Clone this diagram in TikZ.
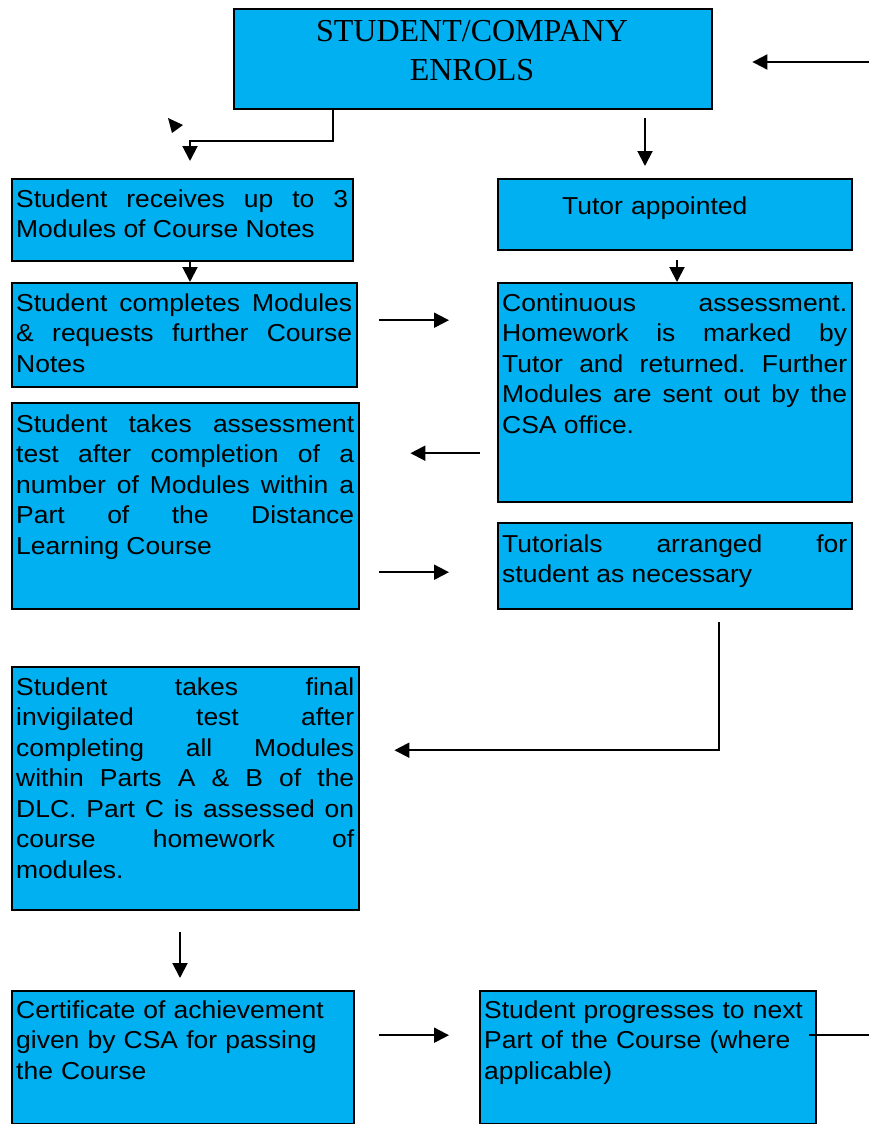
\documentclass[tikz,border=0pt]{standalone}
\usepackage{fontspec}
\usetikzlibrary{arrows.meta}
\newfontfamily\bodyfont{Liberation Sans}[FakeStretch=1.08]
\newfontfamily\headfont{Liberation Serif}
\definecolor{boxblue}{RGB}{0,176,240}
\tolerance=10000
\hyphenpenalty=10000
\exhyphenpenalty=10000
\hbadness=10000
\frenchspacing
\begin{document}
\begin{tikzpicture}[x=1pt,y=-1pt,
  box/.style={draw=black, line width=2.4pt, fill=boxblue, inner sep=0pt, anchor=north west},
  txt/.style={inner sep=0pt, anchor=base west, align=justify,
    font=\bodyfont\fontsize{24.5}{30.5}\selectfont},
  ltxt/.style={txt, align=left},
  arr/.style={-{Triangle[length=15pt,width=15pt]}, line width=2pt},
  plain/.style={line width=2pt}]
\useasboundingbox (0,0) rectangle (869,1124);
% boxes
\node[box, minimum width=478pt, minimum height=100pt] (title) at (233,8) {};
\node[box, minimum width=341pt, minimum height=82pt]  (b1) at (11,178) {};
\node[box, minimum width=354pt, minimum height=71pt]  (b2) at (497,178) {};
\node[box, minimum width=345pt, minimum height=104pt] (b3) at (11,282) {};
\node[box, minimum width=354pt, minimum height=219pt] (b4) at (497,282) {};
\node[box, minimum width=347pt, minimum height=206pt] (b5) at (11,402) {};
\node[box, minimum width=354pt, minimum height=86pt]  (b6) at (497,522) {};
\node[box, minimum width=347pt, minimum height=243pt] (b7) at (11,666) {};
\node[box, minimum width=342pt, minimum height=133pt] (b8) at (11,990) {};
\node[box, minimum width=336pt, minimum height=133pt] (b9) at (479,990) {};
% texts
\node[inner sep=0pt, anchor=base, text width=478pt, align=center,
  font=\headfont\fontsize{32}{39}\selectfont] (tt) at (472,42) {STUDENT/COMPANY\\ENROLS};
\node[txt, text width=332pt] (t1) at (16,207) {Student receives up to 3\linebreak Modules of Course Notes};
\node[txt, text width=250pt, align=left] (t2) at (562,214) {Tutor appointed};
\node[txt, text width=336pt] (t3) at (16,311) {Student completes Modules\linebreak \& requests further Course\linebreak Notes};
\node[txt, text width=345pt] (t4) at (502,311) {Continuous assessment.\linebreak Homework is marked by\linebreak Tutor and returned. Further\linebreak Modules are sent out by the\linebreak CSA office.};
\node[txt, text width=338pt] (t5) at (16,432) {Student takes assessment\linebreak test after completion of a\linebreak number of Modules within a\linebreak Part of the Distance\linebreak Learning Course};
\node[txt, text width=345pt] (t6) at (502,552) {Tutorials arranged for\linebreak student as necessary};
\node[txt, text width=338pt] (t7) at (16,695) {Student takes final\linebreak invigilated test after\linebreak completing all Modules\linebreak within Parts A \& B of the\linebreak DLC. Part C is assessed on\linebreak course homework of\linebreak modules.};
\node[ltxt, text width=332pt] (t8) at (16,1018) {Certificate of achievement\\given by CSA for passing\\the Course};
\node[ltxt, text width=328pt] (t9) at (484,1018) {Student progresses to next\\Part of the Course (where\\applicable)};
% free ends
\coordinate (e1) at (869,62);
\coordinate (e2) at (869,1035);
% connectors
\draw[arr, shorten >=39pt] (e1) -- (title.east |- e1);
\draw[arr, shorten >=17pt] ([xshift=100pt]title.south west) -- ++(0,31) -| ([xshift=179pt]b1.north west);
\fill (168,118) -- (183,125) -- (172,133) -- cycle;
\draw[arr, shorten <=8pt, shorten >=12pt] ([xshift=412pt]title.south west) -- ([xshift=148pt]b2.north west);
\draw[arr] ([xshift=179pt]b1.south west) -- ([xshift=179pt]b3.north west);
\draw[arr, shorten <=9pt] ([xshift=180pt]b2.south west) -- ([xshift=180pt]b4.north west);
\path ([yshift=15pt]b3.east) coordinate (p3);
\draw[arr, shorten <=21pt, shorten >=48pt] (p3) -- (p3 -| b4.west);
\path ([yshift=53pt]b5.east) coordinate (p5);
\draw[arr, shorten <=17pt, shorten >=50pt] (p5 -| b4.west) -- (p5);
\path ([yshift=-6pt]b6.west) coordinate (p6);
\draw[arr, shorten <=19pt, shorten >=48pt] (p6 -| b5.east) -- (p6);
\draw[arr, shorten <=12pt, shorten >=34pt] ([xshift=222pt]b6.south west) |- ([yshift=38.5pt]b7.east);
\draw[arr, shorten <=21pt, shorten >=12pt] ([xshift=169pt]b7.south west) -- ([xshift=169pt]b8.north west);
\path ([yshift=22.5pt]b9.west) coordinate (p9);
\draw[arr, shorten <=24pt, shorten >=30pt] (p9 -| b8.east) -- (p9);
\draw[plain, shorten <=-8pt] (b9.east |- e2) -- (e2);
\end{tikzpicture}
\end{document}
